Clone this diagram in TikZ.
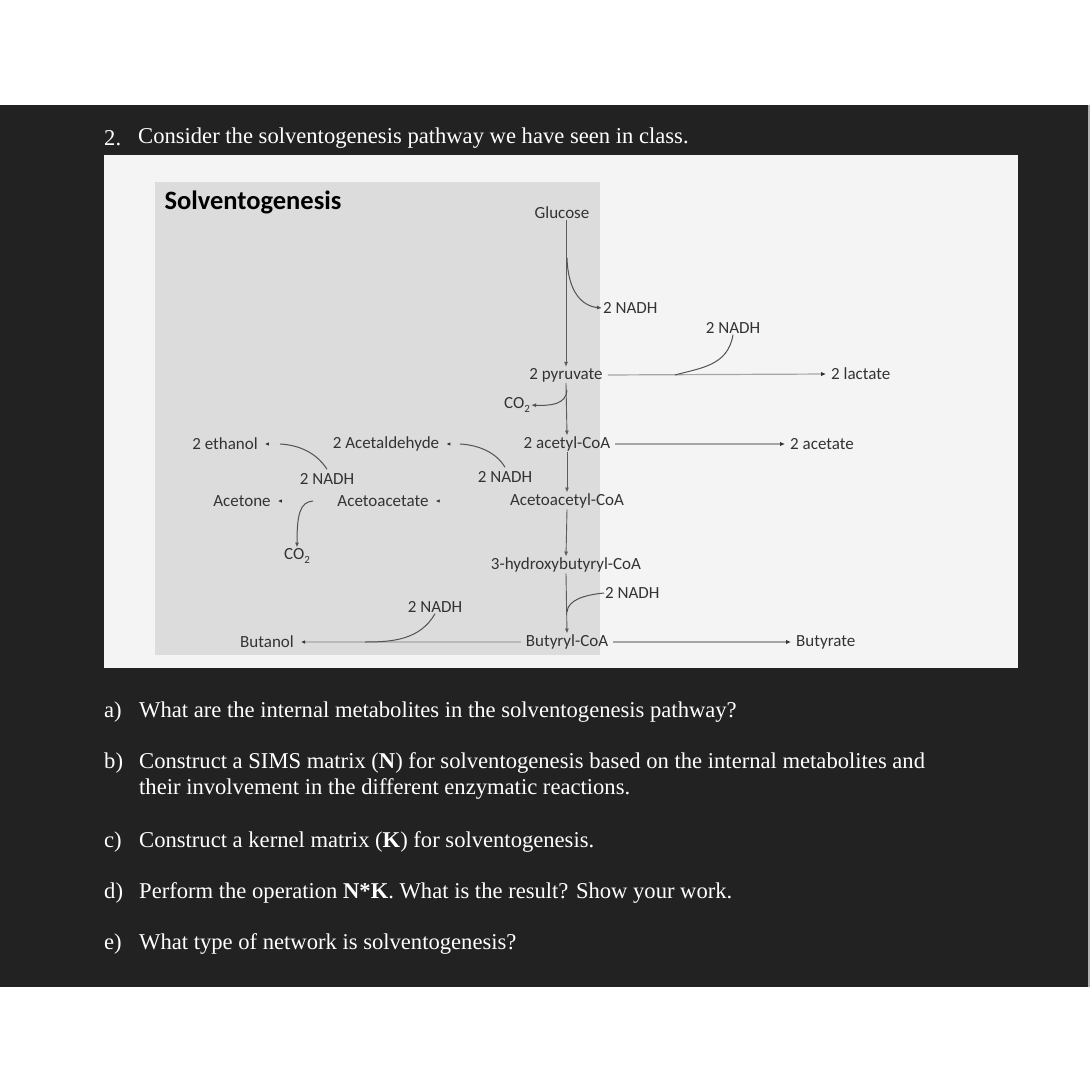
\documentclass[tikz,border=0pt]{standalone}
\usepackage{fontspec}
\setmainfont{Liberation Serif}
\newfontfamily\diagfont{Carlito}
\usetikzlibrary{positioning,arrows.meta}
\tikzset{>={Latex[length=5pt,width=4pt]}}
\newcommand\cotwo{CO\raisebox{-3.5pt}{\fontsize{11}{11}\selectfont 2}}
\definecolor{bandgray}{HTML}{222222}
\definecolor{panelgray}{HTML}{F4F4F4}
\definecolor{boxgray}{HTML}{DCDCDC}
\definecolor{inkgray}{HTML}{333333}
\tikzset{
    metab/.style={font=\diagfont\fontsize{17}{20}\selectfont, text=inkgray, inner sep=1pt},
    flow/.style={->, draw=inkgray!80, line width=0.9pt},
    side/.style={-{Latex[length=5pt,width=4.5pt,color=inkgray]}, draw=gray!70, line width=1.2pt,
        shorten <=4pt, shorten >=4pt},
    faint/.style={-{Latex[length=4pt,width=3.5pt,color=inkgray]}, draw=gray!28, line width=1.4pt,
        shorten <=4pt, shorten >=6pt},
    cofac/.style={draw=inkgray!85, line width=1pt},
    question/.style={font=\fontsize{22.6}{26}\selectfont, text=white, anchor=west, inner sep=0pt},
}

\begin{document}
\begin{tikzpicture}[x=1pt,y=-1pt]
    \useasboundingbox (0,0) rectangle (1092,1092);
    \fill[white] (0,0) rectangle (1092,1092);
    \fill[bandgray] (0,105) rectangle (1088,987);
    \draw[gray!60,line width=2pt] (1089,105) -- (1089,987);
    \fill[panelgray] (104,155) rectangle (1018,668);
    \fill[boxgray] (155,182) rectangle (600,655);

    % question header
    \node[question] (qnum) at (104,138) {2.};
    \node[question] (qhead) at (138,138) {Consider the solventogenesis pathway we have seen in class.};

    % metabolites
    \node[anchor=west,font=\diagfont\bfseries\fontsize{26.5}{30}\selectfont] (title) at (161,202) {Solventogenesis};
    \node[metab] (glucose)  at (562,213) {Glucose};
    \node[metab] (pyruvate) at (566,375) {2 pyruvate};
    \node[metab,anchor=west] (lactate) at (830,374) {2 lactate};
    \node[metab] (co2A)     at (517,405) {\cotwo};
    \node[metab] (acetylcoa) at (567,444) {2 acetyl-CoA};
    \node[metab,anchor=west] (acetate) at (789,444) {2 acetate};
    \node[metab] (acetald)  at (386,444) {2 Acetaldehyde};
    \node[metab] (ethanol)  at (225,444) {2 ethanol};
    \node[metab] (acacoa)   at (567,501) {Acetoacetyl-CoA};
    \node[metab] (acac)     at (383,501) {Acetoacetate};
    \node[metab] (acetone)  at (242,501) {Acetone};
    \node[metab] (co2B)     at (297,556) {\cotwo};
    \node[metab] (hbcoa)    at (566,565) {3-hydroxybutyryl-CoA};
    \node[metab] (butcoa)   at (567,642) {Butyryl-CoA};
    \node[metab] (butanol)  at (267,642) {Butanol};
    \node[metab,anchor=west] (butyrate) at (795,642) {Butyrate};

    % cofactors
    \node[metab,anchor=west] (nadhA) at (602,308) {2 NADH};
    \node[metab] (nadhB) at (733,328) {2 NADH};
    \node[metab] (nadhC) at (327,479) {2 NADH};
    \node[metab] (nadhD) at (505,477) {2 NADH};
    \node[metab,anchor=west] (nadhE) at (604,593) {2 NADH};
    \node[metab] (nadhF) at (435,607) {2 NADH};

    % join points on the arrows
    \coordinate (gj) at (567,258);
    \coordinate (lj) at (675,375);
    \coordinate (pj) at (567,390);
    \coordinate (dj) at (460,444);
    \coordinate (ej) at (280,444);
    \coordinate (aj) at (313,501);
    \coordinate (hj) at (567,612);
    \coordinate (bj) at (365,642);

    % main chain
    \draw[flow] (pyruvate.north |- glucose.south) -- (pyruvate.north);
    \draw[flow] (pyruvate.south) -- (acetylcoa.north);
    \draw[flow] (acetylcoa.south) -- (acacoa.north);
    \draw[flow] (acacoa.south) -- (hbcoa.north);
    \draw[flow] (hbcoa.south) -- (butcoa.north);
    \draw[side] (pyruvate.east) -- (lactate.west);
    \draw[side] (acetylcoa.east) -- (acetate.west);
    \draw[side] (butcoa.east) -- (butyrate.west);
    \draw[faint] (acetylcoa.west) -- (acetald.east);
    \draw[faint] (acetald.west) -- (ethanol.east);
    \draw[faint] (acacoa.west) -- (acac.east);
    \draw[faint] (acac.west) -- (acetone.east);
    \draw[faint,draw=gray!55] (butcoa.west) -- (butanol.east);

    % side reactions
    \draw[cofac,->] (gj) .. controls (568,292) and (582,306) .. (nadhA.west);
    \draw[cofac] (nadhB.south) .. controls (728,366) and (700,368) .. (lj);
    \draw[cofac,->] (pj) .. controls (566,404) and (552,406) .. (co2A.east);
    \draw[cofac] ([yshift=3pt]nadhD.north) .. controls (496,452) and (478,445) .. (dj);
    \draw[cofac] ([yshift=3pt]nadhC.north) .. controls (316,452) and (298,445) .. (ej);
    \draw[cofac,->] (aj) .. controls (300,502) and (297,514) .. (co2B.north);
    \draw[cofac] (nadhE.west) .. controls (584,595) and (568,600) .. (hj);
    \draw[cofac] (nadhF.south) .. controls (420,640) and (392,642) .. (bj);

    % questions
    \node[question] (qa) at (104,712) {a)};
    \node[question] at (139,712) {What are the internal metabolites in the solventogenesis pathway?};
    \node[question] (qb) at (104,763) {b)};
    \node[question] at (139,763) {Construct a SIMS matrix (\textbf{N}) for solventogenesis based on the internal metabolites and};
    \node[question] at (139,789) {their involvement in the different enzymatic reactions.};
    \node[question] (qc) at (104,842) {c)};
    \node[question] at (139,842) {Construct a kernel matrix (\textbf{K}) for solventogenesis.};
    \node[question] (qd) at (104,893) {d)};
    \node[question] at (139,893) {Perform the operation \textbf{N*K}. What is the result? Show your work.};
    \node[question] (qe) at (104,944) {e)};
    \node[question] at (139,944) {What type of network is solventogenesis?};
\end{tikzpicture}
\end{document}
